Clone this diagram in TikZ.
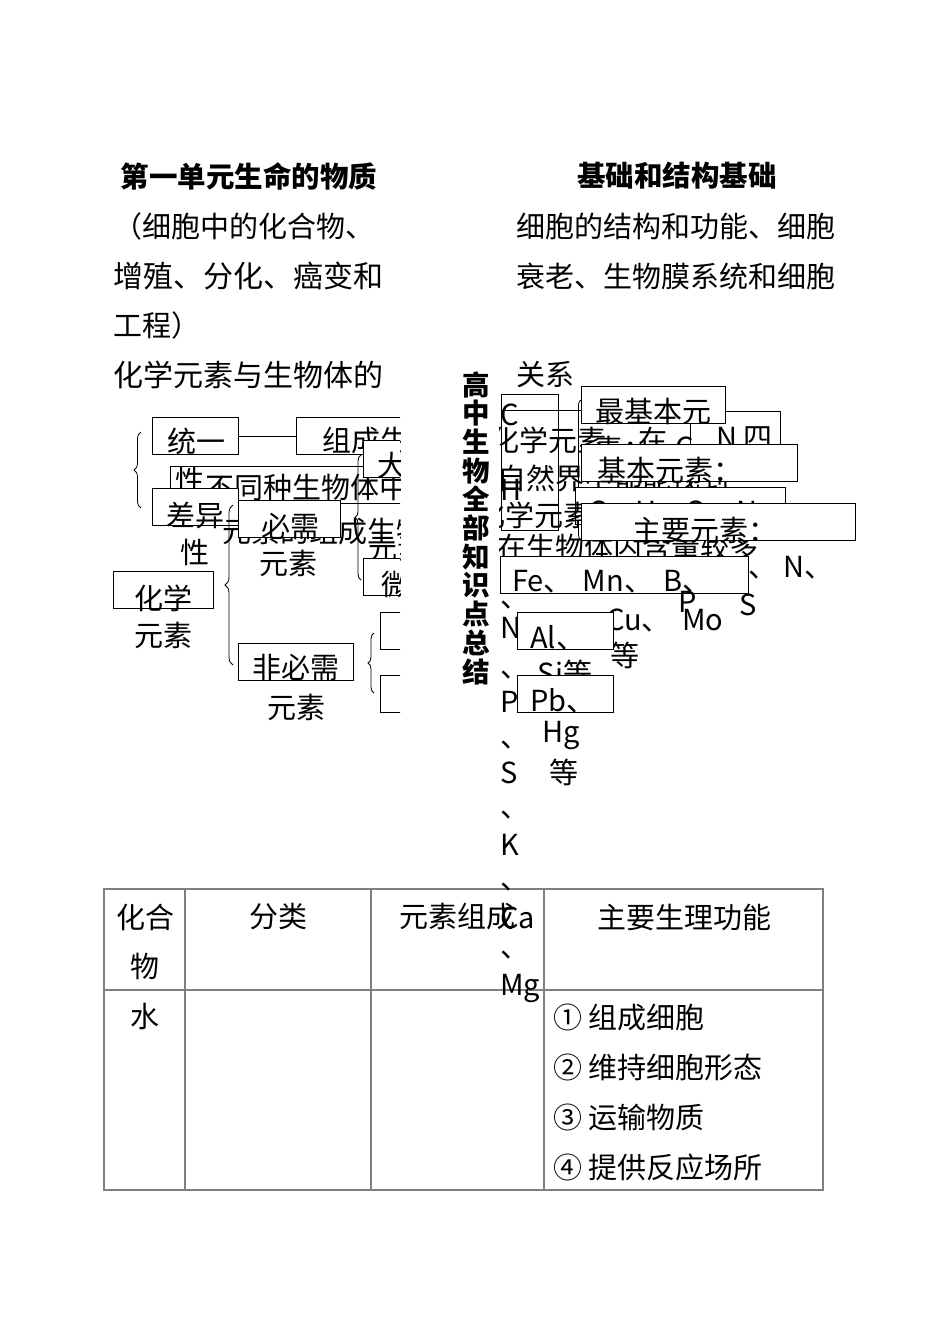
\documentclass[tikz,border=0pt]{standalone}
\usepackage{fontspec}
\setmainfont{Noto Sans CJK SC}
\usetikzlibrary{decorations.pathreplacing}
\begin{document}
\begin{tikzpicture}[x=1pt,y=-1pt,
 t/.style={inner sep=0pt, font=\fontsize{29}{29}\selectfont},
 tw/.style={t, anchor=west},
 ttl/.style={inner sep=0pt, font=\fontsize{28.5}{28.5}\selectfont\bfseries},
 bx/.style={draw=black, line width=0.9pt, fill=white, inner sep=0pt, anchor=north west, minimum height=37pt},
 grd/.style={draw=black!50, line width=1.1pt},
 brc/.style={decorate, decoration={brace, amplitude=7pt}, line width=0.8pt},
]
\useasboundingbox[fill=white] (0,0) rectangle (950,1344);

% ---------- titles and text lines ----------
\node[ttl] (t1) at (249,176) {第一单元生命的物质};
\node[ttl] (t2) at (677,176) {基础和结构基础};
\node[tw] (l1) at (113,226) {（细胞中的化合物、};
\node[tw, font=\fontsize{30}{30}\selectfont] (l2) at (113,276) {增殖、分化、癌变和};
\node[tw] (l3) at (113,325) {工程）};
\node[tw, font=\fontsize{30}{30}\selectfont] (l4) at (113,375) {化学元素与生物体的};
\node[tw] (r1) at (516,226) {细胞的结构和功能、细胞};
\node[tw] (r2) at (516,276) {衰老、生物膜系统和细胞};
\node[tw] (r3) at (516,375) {关系};

\node[inner sep=0pt, font=\fontsize{27.5}{28.7}\selectfont\bfseries, align=center] (vt) at (476,528)
 {高\\中\\生\\物\\全\\部\\知\\识\\点\\总\\结};

% ---------- table ----------
\draw[grd] (104,889) rectangle (823,1190);
\draw[grd] (185,889) -- (185,1190);
\draw[grd] (371,889) -- (371,1190);
\draw[grd] (544,889) -- (544,1190);
\draw[grd] (104,990) -- (823,990);
\node[t] (h1a) at (145,917) {化合};
\node[t] (h1b) at (145,966) {物};
\node[t] (h2) at (278,917) {分类};
\node[t] (h3) at (457,917) {元素组成};
\node[t] (h4) at (684,917) {主要生理功能};
\node[t] (w) at (145,1017) {水};
\node[tw] (f1) at (553,1017) {① 组成细胞};
\node[tw] (f2) at (553,1067) {② 维持细胞形态};
\node[tw] (f3) at (553,1117) {③ 运输物质};
\node[tw] (f4) at (553,1167) {④ 提供反应场所};

% ---------- left diagram (clipped at x=400) ----------
\begin{scope}
\clip (100,395) rectangle (400,730);
\draw[brc] (141,508) -- (141,432);
\node[bx, minimum width=260pt] (bXing) at (170,466) {};
\node[t] (xing1) at (190,480) {性};
\node[tw] (butong) at (205,488) {不同种生物体中};
\node[bx, minimum width=86pt] (bTong) at (152,417) {};
\node[t] (tong) at (196,441) {统一};
\node[bx, minimum width=130pt] (bZu) at (296,417) {};
\node[tw] (zu) at (322,441) {组成生物体};
\draw[line width=0.8pt] (bTong.east) -- (bZu.west);
\node[bx, minimum width=86pt] (bCha) at (152,488) {};
\node[t] (cha) at (195,515) {差异};
\node[t] (xing2) at (195,552) {性};
\node[tw] (yszc) at (222,532) {元素的组成生物};
\node[bx, minimum width=102pt] (bBi) at (238,500) {};
\node[t] (bi) at (290,527) {必需};
\node[t] (bi2) at (288,563) {元素};
\draw[brc, decoration={brace, amplitude=6pt}] (361,580) -- (361,455);
\node[bx, minimum width=60pt] (bDa) at (363,440) {};
\node[tw] (da) at (377,465) {大量};
\node[tw] (yuan3) at (368,548) {元素};
\node[bx, minimum width=60pt] (bWei) at (363,558) {};
\node[tw] (wei) at (381,585) {微量};
\draw[brc, decoration={brace, amplitude=6pt}] (374,693) -- (374,633);
\node[bx, minimum width=40pt] (bF1) at (380,612) {};
\node[bx, minimum width=40pt] (bF2) at (380,675) {};
\node[bx, minimum width=100pt] (bHua) at (113,571) {};
\node[t] (hua) at (163,598) {化学};
\node[t] (hua2) at (163,635) {元素};
\draw[brc, decoration={brace, amplitude=8pt}] (233,665) -- (233,505);
\node[bx, minimum width=115pt] (bFei) at (238,643) {};
\node[t] (fei) at (296,668) {非必需};
\node[t] (fei2) at (296,707) {元素};
\end{scope}

% ---------- right middle (clipped at x=499) ----------
\begin{scope}
\clip (499,380) rectangle (900,1010);
\node[bx, fill=none, minimum width=57pt, minimum height=136pt] (bCol) at (501,394) {};
\coordinate (cL) at (501,410);
\draw[brc, decoration={brace, amplitude=5pt}] (581,540) -- (581,400);
\node[bx, minimum width=90pt, minimum height=50pt] (bN) at (690,411) {};
\node[tw] (nsi) at (716,438) {N 四};
\node[bx, minimum width=144pt] (bZui) at (581,386) {};
\node[t] (zui) at (653,411) {最基本元};
\draw[line width=0.8pt] (cL) -- (cL -| bZui.west);
\node[tw] (hx1) at (490,440) {化学元素};
\node[t] (zai) at (653,440) {在};
\node[t] (su) at (623,449) {素：};
\node[t] (cc) at (685,448) {C};
\node[tw] (zrj) at (497,478) {自然界中都能找到};
\node[bx, minimum width=216pt] (bJi) at (581,444) {};
\node[t] (ji) at (670,470) {基本元素：};
\node[bx, minimum width=210pt] (bCH) at (575,487) {};
\node[tw] (chon) at (588,512) {C、H、O、N};
\node[tw] (hx2) at (476,515) {化学元素};
\node[tw] (hl) at (497,547) {在生物体内含量较多};
\node[bx, minimum width=274pt] (bZhu) at (581,503) {};
\node[t] (zhu) at (705,530) {主要元素：};
\node[bx, minimum width=248pt] (bFe) at (500,556) {};
\node[tw] (fe) at (512,582) {Fe、\hspace{10pt}Mn、\hspace{10pt}B、};
\node[tw] (nn) at (748,568) {、 N、};
\node[t] (pp) at (688,602) {P};
\node[t] (ss) at (748,605) {S};
\node[t] (mo) at (703,620) {Mo};
\node[tw] (cu) at (606,620) {Cu、};
\node[t] (deng1) at (625,655) {等};
\node[bx, minimum width=96pt] (bAl) at (517,612) {};
\node[tw] (al) at (530,638) {Al、};
\node[t] (si) at (565,673) {Si等};
\node[bx, minimum width=96pt] (bPb) at (517,675) {};
\node[tw] (pb) at (530,701) {Pb、};
\node[t] (hg) at (561,735) {Hg};
\node[t] (deng2) at (564,772) {等};
% column of element symbols
\node[tw] (kC) at (500,415) {C};
\node[tw] (kH) at (500,490) {H};
\node[tw] (kd0) at (500,605) {、};
\node[tw] (kN) at (500,628) {N};
\node[tw] (kd1) at (500,675) {、};
\node[tw] (kP) at (500,702) {P};
\node[tw] (kd2) at (500,745) {、};
\node[tw] (kS) at (500,773) {S};
\node[tw] (kd3) at (500,815) {、};
\node[tw] (kK) at (500,845) {K};
\node[tw] (kd4) at (500,887) {、};
\node[tw] (kCa) at (500,918) {Ca};
\node[tw] (kd5) at (500,955) {、};
\node[tw] (kMg) at (500,988) {Mg};
\end{scope}
\end{tikzpicture}
\end{document}
